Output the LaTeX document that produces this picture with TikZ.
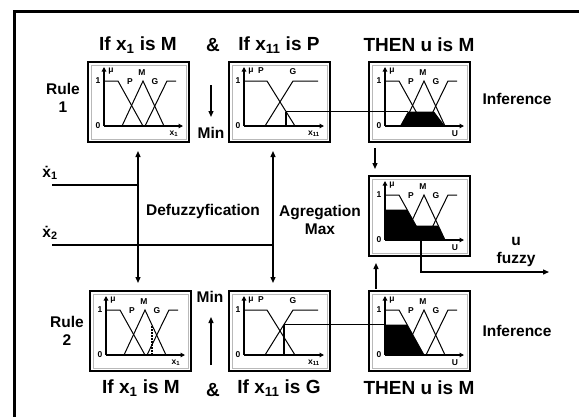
\documentclass[tikz,border=0pt]{standalone}
\usepackage{fontspec}
\setmainfont{Liberation Sans}
\usetikzlibrary{arrows.meta,calc}
\tikzset{
  tiny/.style={font=\fontsize{8.5}{8.5}\selectfont\bfseries, inner sep=0pt},
  ax/.style={line width=1.2pt, -{Triangle[length=4.5pt,width=4.5pt]}},
  mf/.style={line width=1pt},
  inner frame/.style={gray!55, line width=0.6pt},
  pics/mfA/.style={code={
    \draw[inner frame] (3,3) rectangle (98,77);
    \draw[ax] (16,64) -- (95,64);
    \draw[ax] (16,64) -- (16,5);
    \draw[mf] (16,19) -- (30,19) -- (55,64);
    \draw[mf] (34,64) -- (55,19) -- (76,64);
    \draw[mf] (57,64) -- (79,19) -- (88,19);
    \node[tiny] (-one) at (10,19) {1};
    \node[tiny] (-zero) at (10,64) {0};
    \node[tiny] (-mu) at (23,9) {μ};
    \node[tiny] (-p) at (42,20) {P};
    \node[tiny] (-m) at (54,11) {M};
    \node[tiny] (-g) at (67,20) {G};
    \node[tiny] (-xl) at (86,72) {#1};
  }},
  pics/mfB/.style={code={
    \draw[inner frame] (3,3) rectangle (98,77);
    \draw[ax] (15,64) -- (95,64);
    \draw[ax] (15,64) -- (15,5);
    \draw[mf] (15,19) -- (38,19) -- (66,64);
    \draw[mf] (36,64) -- (64,19) -- (89,19);
    \node[tiny] (-one) at (9,19) {1};
    \node[tiny] (-zero) at (9,64) {0};
    \node[tiny] (-mu) at (22,9) {μ};
    \node[tiny] (-p) at (32,9) {P};
    \node[tiny] (-g) at (64,10) {G};
    \node[tiny] (-xl) at (85,72) {#1};
  }},
}
\begin{document}
\begin{tikzpicture}[x=1pt,y=-1pt,
  title/.style={font=\fontsize{19}{21}\selectfont\bfseries, inner sep=0pt},
  lbl/.style={font=\fontsize{15.5}{18}\selectfont\bfseries, align=center, inner sep=0pt},
  frm/.style={draw, line width=1.8pt, minimum width=101pt, minimum height=80pt,
              inner sep=0pt, outer sep=0pt, anchor=north west},
  arr/.style={line width=1.3pt, -{Triangle[length=6pt,width=5pt]}},
  darr/.style={line width=1.3pt, {Triangle[length=6pt,width=5pt]}-{Triangle[length=6pt,width=5pt]}},
  ln/.style={line width=1.3pt},
  thin ln/.style={line width=1.1pt},
  marker/.style={line width=1.5pt, dash pattern=on 2pt off 1pt},
]
\useasboundingbox (0,0) rectangle (579,416);
\clip (0,0) rectangle (579,416);
\fill[white] (0,0) rectangle (579,416);

% outer frame (right and bottom lie outside the picture)
\coordinate (fbl) at (14.5,430);
\coordinate (ftl) at (14.5,11.5);
\coordinate (ftr) at (600,11.5);
\draw[line width=3pt] (fbl) -- (ftl) -- (ftr);

% boxes
\node[frm] (b11) at (88,62) {};
\node[frm] (b12) at (229,62) {};
\node[frm] (b13) at (369,62) {};
\node[frm] (agg) at (369,176) {};
\node[frm] (b21) at (90,291) {};
\node[frm] (b22) at (229,291) {};
\node[frm] (b23) at (369,291) {};

% black areas
\begin{scope}[shift={(b13.north west)}]
  \fill (31,64) -- (39,49.5) -- (65,49.5) -- (76,64) -- cycle;
\end{scope}
\begin{scope}[shift={(agg.north west)}]
  \fill (16,64) -- (16,33.5) -- (38,33.5) -- (47,49.5) -- (69,49.5) -- (76,64) -- cycle;
\end{scope}
\begin{scope}[shift={(b23.north west)}]
  \fill (16,64) -- (16,33.5) -- (38,33.5) -- (55,64) -- cycle;
\end{scope}

\pic (p11) at (b11.north west) {mfA={x\textsubscript{1}}};
\pic (p12) at (b12.north west) {mfB={x\textsubscript{11}}};
\pic (p13) at (b13.north west) {mfA={U}};
\pic (pag) at (agg.north west) {mfA={U}};
\pic (p21) at (b21.north west) {mfA={x\textsubscript{1}}};
\pic (p22) at (b22.north west) {mfB={x\textsubscript{11}}};
\pic (p23) at (b23.north west) {mfA={U}};

% input markers and min lines
\coordinate (r1a) at ($(b12.north west)+(57,64)$);
\coordinate (r1b) at ($(b12.north west)+(57,49.5)$);
\coordinate (r1c) at ($(b13.north west)+(39,49.5)$);
\draw[thin ln] (r1a) -- (r1b);
\draw[thin ln] (r1b) -- (r1c);

\coordinate (r2a) at ($(b22.north west)+(55,64)$);
\coordinate (r2b) at ($(b22.north west)+(55,33.5)$);
\coordinate (r2c) at ($(b23.north west)+(16,33.5)$);
\draw[thin ln] (r2a) -- (r2b);
\draw[thin ln] (r2b) -- (r2c);

\coordinate (r2m0) at ($(b21.north west)+(62,64)$);
\coordinate (r2m1) at ($(b21.north west)+(62,34)$);
\draw[marker] (r2m0) -- (r2m1);

% titles
\node[title] (t11) at (138,45) {If x\textsubscript{1} is M};
\node[title] (t12) at (213,45) {\&};
\node[title] (t13) at (279,45) {If x\textsubscript{11} is P};
\node[title] (t14) at (419,45) {THEN u is M};
\node[title] (t21) at (141,388) {If x\textsubscript{1} is M};
\node[title] (t22) at (213,390) {\&};
\node[title] (t23) at (279,388) {If x\textsubscript{11} is G};
\node[title] (t24) at (419,388) {THEN u is M};

% labels
\node[lbl] (rule1) at (63,98) {Rule\\1};
\node[lbl] (rule2) at (67,331) {Rule\\2};
\node[lbl] (min1) at (211,133) {Min};
\node[lbl] (min2) at (210,297) {Min};
\node[lbl] (inf1) at (517,99) {Inference};
\node[lbl] (inf2) at (517,331) {Inference};
\node[lbl] (dx1) at (50,173) {\.{x}\textsubscript{1}};
\node[lbl] (dx2) at (50,233) {\.{x}\textsubscript{2}};
\node[lbl] (defuz) at (203,211) {Defuzzyfication};
\node[lbl] (aggr) at (320,220) {Agregation\\Max};
\node[lbl] (ufz) at (516,252) {u\\fuzzy};

% min arrows
\coordinate (m1s) at (211,85);
\coordinate (m1e) at (211,117);
\draw[arr] (m1s) -- (m1e);
\coordinate (m2s) at (211,365);
\coordinate (m2e) at (211,317);
\draw[arr] (m2s) -- (m2e);

% inference to aggregation
\coordinate (i1s) at (375,148);
\coordinate (i1e) at (375,169);
\draw[arr] (i1s) -- (i1e);
\coordinate (i2s) at (376,289);
\coordinate (i2e) at (376,263);
\draw[arr] (i2s) -- (i2e);

% input lines
\coordinate (v1t) at (138,151);
\coordinate (v1b) at (138,283);
\draw[darr] (v1t) -- (v1b);
\coordinate (v2t) at (273,151);
\coordinate (v2b) at (273,283);
\draw[darr] (v2t) -- (v2b);
\coordinate (x1s) at (52,185);
\coordinate (x1e) at (138,185);
\draw[ln] (x1s) -- (x1e);
\coordinate (x2s) at (52,245);
\coordinate (x2e) at (273,245);
\draw[ln] (x2s) -- (x2e);

% output
\coordinate (o0) at ($(agg.north west)+(52,64)$);
\coordinate (o2) at (549,272);
\draw[ln, -{Triangle[length=6pt,width=5pt]}] (o0) |- (o2);
\end{tikzpicture}
\end{document}
